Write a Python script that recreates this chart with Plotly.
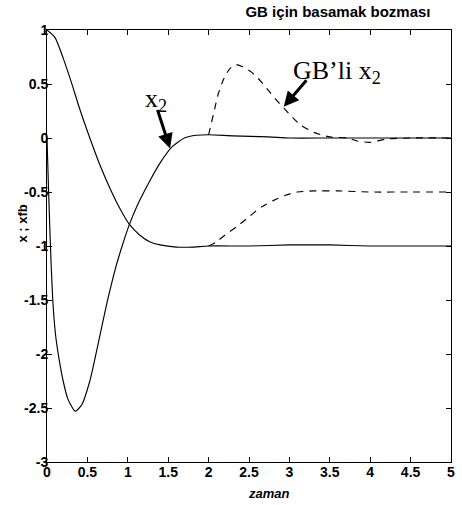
import plotly.graph_objects as go

# Time axis and responses (read at irregular sample times)
t_x1 = [0, 0.1, 0.2, 0.3, 0.4, 0.53, 0.65, 0.8, 0.9, 1.02, 1.15, 1.27, 1.4, 1.6, 1.8, 2.0, 2.5, 3.0, 3.5, 4.0, 4.5, 5.0]
x1 = [1.0, 0.93, 0.74, 0.52, 0.28, 0.0, -0.24, -0.5, -0.65, -0.8, -0.9, -0.96, -0.99, -1.01, -1.01, -1.0, -1.0, -0.99, -0.99, -1.0, -1.0, -1.0]

t_x2 = [0, 0.02, 0.05, 0.08, 0.11, 0.15, 0.2, 0.26, 0.35, 0.43, 0.53, 0.62, 0.735, 0.85, 0.93, 1.02, 1.12, 1.27, 1.4, 1.55, 1.7, 1.85, 2.0, 2.3, 2.74, 3.0, 3.5, 4.0, 4.5, 5.0]
x2 = [0.0, -0.5, -1.15, -1.6, -1.85, -2.05, -2.25, -2.42, -2.53, -2.47, -2.25, -1.95, -1.55, -1.2, -1.0, -0.8, -0.62, -0.4, -0.23, -0.08, 0.0, 0.025, 0.03, 0.02, 0.01, 0.0, 0.0, 0.0, 0.0, 0.0]

# Responses with state feedback (GB), disturbance step applied at t = 2
t_fb1 = [2.0, 2.1, 2.2, 2.35, 2.5, 2.65, 2.8, 2.95, 3.1, 3.3, 3.6, 4.0, 4.5, 5.0]
xfb1 = [-1.0, -0.96, -0.9, -0.82, -0.73, -0.64, -0.58, -0.53, -0.5, -0.49, -0.49, -0.5, -0.5, -0.5]

t_fb2 = [2.0, 2.06, 2.12, 2.19, 2.26, 2.33, 2.42, 2.53, 2.64, 2.74, 2.84, 2.94, 3.04, 3.14, 3.31, 3.5, 3.72, 3.85, 4.0, 4.2, 4.5, 5.0]
xfb2 = [0.03, 0.22, 0.41, 0.55, 0.64, 0.68, 0.66, 0.61, 0.53, 0.44, 0.35, 0.27, 0.19, 0.12, 0.05, 0.01, 0.0, -0.03, -0.04, -0.01, 0.0, 0.0]

x_ticks = [0, 0.5, 1, 1.5, 2, 2.5, 3, 3.5, 4, 4.5, 5]
x_ticklabels = ["0", "0.5", "1", "1.5", "2", "2.5", "3", "3.5", "4", "4.5", "5"]
y_ticks = [-3, -2.5, -2, -1.5, -1, -0.5, 0, 0.5, 1]
y_ticklabels = ["-3", "-2.5", "-2", "-1.5", "-1", "-0.5", "0", "0.5", "1"]

line_solid = dict(color="black", width=1.15, shape="spline", smoothing=0.6)
line_dash = dict(color="black", width=1.15, dash="7px,6px", shape="spline", smoothing=0.6)

fig = go.Figure()
fig.add_trace(go.Scatter(x=t_fb1, y=xfb1, mode="lines", line=line_dash))
fig.add_trace(go.Scatter(x=t_fb2, y=xfb2, mode="lines", line=line_dash))
fig.add_trace(go.Scatter(x=t_x1, y=x1, mode="lines", line=line_solid))
fig.add_trace(go.Scatter(x=t_x2, y=x2, mode="lines", line=line_solid))

sans_family = "Liberation Sans, Arial, sans-serif"
tick_font = dict(family=sans_family, size=14, color="black", weight="bold")
axis_common = dict(
    showline=True, linecolor="black", linewidth=1, mirror="ticks",
    ticks="inside", ticklen=5, tickcolor="black", tickwidth=1,
    showgrid=False, zeroline=False, tickfont=tick_font,
)

fig.update_layout(
    width=462, height=505,
    margin=dict(l=47, r=7, t=30, b=43),
    paper_bgcolor="white", plot_bgcolor="white",
    showlegend=False,
    xaxis=dict(range=[0, 5], tickvals=x_ticks, ticktext=x_ticklabels,
               ticklabelstandoff=-3, **axis_common),
    yaxis=dict(range=[-3, 1], tickvals=y_ticks, ticktext=y_ticklabels,
               ticklabelstandoff=-5, **axis_common),
    title=dict(
        text="GB için basamak bozması", xref="container", yref="container",
        x=338 / 462, y=1 - 12 / 505, xanchor="center", yanchor="middle",
        font=dict(family=sans_family, size=15, color="black", weight="bold"),
    ),
)

serif = dict(family="Liberation Serif, Times New Roman, serif", size=26, color="black")
label_font = dict(family=sans_family, size=13, color="black", weight="bold")

annotations = [
    # curve labels
    dict(x=1.35, y=0.35, xref="x", yref="y", text="x<sub>2</sub>", showarrow=False, font=serif),
    dict(x=3.59, y=0.61, xref="x", yref="y", text="GB’li x<sub>2</sub>", showarrow=False, font=serif),
    # arrows pointing at the curves
    dict(x=1.523, y=-0.097, xref="x", yref="y", ax=-13, ay=-40, text="", showarrow=True,
         arrowhead=2, arrowsize=1, arrowwidth=3, arrowcolor="black"),
    dict(x=2.93, y=0.29, xref="x", yref="y", ax=24, ay=-28, text="", showarrow=True,
         arrowhead=2, arrowsize=1, arrowwidth=3, arrowcolor="black"),
    # axis titles
    dict(x=(271 - 47) / 408, y=(461.7 - 493) / 432, xref="paper", yref="paper",
         xanchor="center", yanchor="middle", text="<i>zaman</i>",
         showarrow=False, font=label_font),
    dict(x=(22 - 47) / 408, y=(461.7 - 223) / 432, xref="paper", yref="paper",
         xanchor="center", yanchor="middle", text="x ; xfb",
         textangle=-90, showarrow=False, font=label_font),
]
fig.update_layout(annotations=annotations)

fig.write_html("out.html")
